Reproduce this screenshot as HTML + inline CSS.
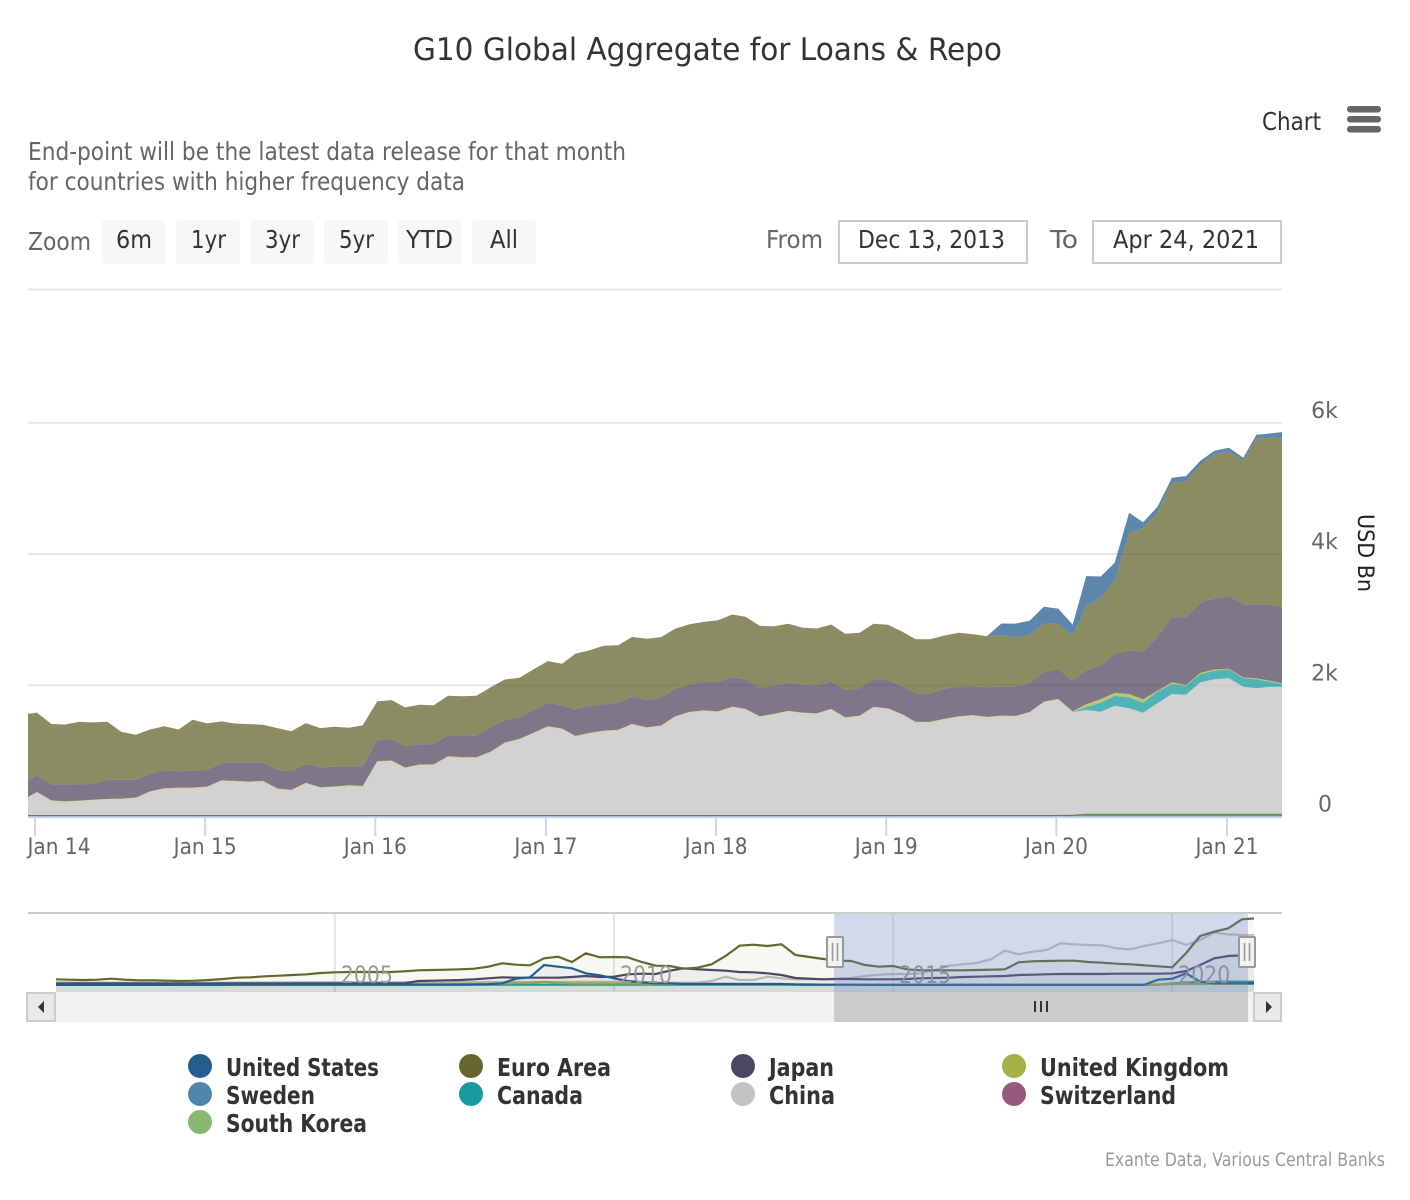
<!DOCTYPE html>
<html lang="en">
<head>
<meta charset="utf-8">
<title>G10 Global Aggregate for Loans &amp; Repo</title>
<style>
html,body{margin:0;padding:0;background:#fff;width:1410px;height:1200px;overflow:hidden}
svg{display:block}
text{font-family:"DejaVu Sans","Liberation Sans",sans-serif}
</style>
</head>
<body>
<svg id="chart" xmlns="http://www.w3.org/2000/svg" width="1410" height="1200" viewBox="0 0 1410 1200">
  <defs>
    <clipPath id="plot-clip"><rect x="28" y="280" width="1254" height="538"/></clipPath>
    <clipPath id="nav-clip"><rect x="56" y="913" width="1198" height="79"/></clipPath>
  </defs>
  <rect width="1410" height="1200" fill="#fff"/>

  <text x="413" y="60" font-size="31" fill="#333" textLength="589" lengthAdjust="spacingAndGlyphs">G10 Global Aggregate for Loans &amp; Repo</text>

  <text x="1262" y="130" font-size="25" fill="#333" textLength="59" lengthAdjust="spacingAndGlyphs">Chart</text>
  <g fill="#666">
    <rect x="1347" y="106" width="34" height="6.5" rx="3.2"/>
    <rect x="1347" y="116" width="34" height="6.5" rx="3.2"/>
    <rect x="1347" y="126" width="34" height="6.5" rx="3.2"/>
  </g>

  <g font-size="25" fill="#666">
    <text x="28" y="160" textLength="598" lengthAdjust="spacingAndGlyphs">End-point will be the latest data release for that month</text>
    <text x="28" y="190" textLength="437" lengthAdjust="spacingAndGlyphs">for countries with higher frequency data</text>
  </g>

  <text x="28" y="250" font-size="25" fill="#666" textLength="63" lengthAdjust="spacingAndGlyphs">Zoom</text>
  <g><rect x="102" y="220" width="64" height="44" rx="4" fill="#f7f7f7"/><text x="116" y="248" font-size="25" fill="#333" textLength="36" lengthAdjust="spacingAndGlyphs">6m</text></g>
  <g><rect x="176" y="220" width="64" height="44" rx="4" fill="#f7f7f7"/><text x="191" y="248" font-size="25" fill="#333" textLength="35" lengthAdjust="spacingAndGlyphs">1yr</text></g>
  <g><rect x="250" y="220" width="64" height="44" rx="4" fill="#f7f7f7"/><text x="265" y="248" font-size="25" fill="#333" textLength="35" lengthAdjust="spacingAndGlyphs">3yr</text></g>
  <g><rect x="324" y="220" width="64" height="44" rx="4" fill="#f7f7f7"/><text x="339" y="248" font-size="25" fill="#333" textLength="35" lengthAdjust="spacingAndGlyphs">5yr</text></g>
  <g><rect x="398" y="220" width="64" height="44" rx="4" fill="#f7f7f7"/><text x="406" y="248" font-size="25" fill="#333" textLength="47" lengthAdjust="spacingAndGlyphs">YTD</text></g>
  <g><rect x="472" y="220" width="64" height="44" rx="4" fill="#f7f7f7"/><text x="490" y="248" font-size="25" fill="#333" textLength="28" lengthAdjust="spacingAndGlyphs">All</text></g>

  <text x="766" y="248" font-size="25" fill="#666" textLength="57" lengthAdjust="spacingAndGlyphs">From</text>
  <g><rect x="839" y="221" width="188" height="42" fill="#fff" stroke="#ccc" stroke-width="2"/><text x="858" y="248" font-size="25" fill="#333" textLength="147" lengthAdjust="spacingAndGlyphs">Dec 13, 2013</text></g>
  <text x="1050" y="248" font-size="25" fill="#666" textLength="28" lengthAdjust="spacingAndGlyphs">To</text>
  <g><rect x="1093" y="221" width="188" height="42" fill="#fff" stroke="#ccc" stroke-width="2"/><text x="1113" y="248" font-size="25" fill="#333" textLength="146" lengthAdjust="spacingAndGlyphs">Apr 24, 2021</text></g>

  <g id="grid-layer"></g>
  <g id="area-layer" clip-path="url(#plot-clip)"></g>
  <g id="x-axis-layer"></g>
  <g id="y-axis-layer"></g>
  <text transform="translate(1358,514) rotate(90)" font-size="22" fill="#222" textLength="78" lengthAdjust="spacingAndGlyphs">USD Bn</text>

  <g id="nav-layer"></g>

  <g>
    <rect x="55" y="992" width="1199" height="30" fill="#f2f2f2"/>
    <rect x="834" y="992" width="414" height="30" fill="#ccc"/>
    <g stroke="#333" stroke-width="2">
      <line x1="1035" y1="1001" x2="1035" y2="1012"/><line x1="1041" y1="1001" x2="1041" y2="1012"/><line x1="1047" y1="1001" x2="1047" y2="1012"/>
    </g>
    <g><rect x="27" y="993" width="28" height="28" fill="#e9e9e9" stroke="#ccc" stroke-width="2"/><path d="M44 1001 L38 1007 L44 1013 Z" fill="#333"/></g>
    <g><rect x="1254" y="993" width="27" height="28" fill="#e9e9e9" stroke="#ccc" stroke-width="2"/><path d="M1266 1001 L1272 1007 L1266 1013 Z" fill="#333"/></g>
  </g>

  <g id="legend-layer"></g>

  <text x="1105" y="1166" font-size="18.5" fill="#999" textLength="280" lengthAdjust="spacingAndGlyphs">Exante Data, Various Central Banks</text>
</svg>

<script>
/* ---------- main chart data (USD bn, monthly) ---------- */
var dates = [
'2013-12-17','2014-01-05','2014-02-05','2014-03-05','2014-04-05','2014-05-05','2014-06-05','2014-07-05','2014-08-05','2014-09-05',
'2014-10-05','2014-11-05','2014-12-05','2015-01-05','2015-02-05','2015-03-05','2015-04-05','2015-05-05','2015-06-05','2015-07-05',
'2015-08-05','2015-09-05','2015-10-05','2015-11-05','2015-12-05','2016-01-05','2016-02-05','2016-03-05','2016-04-05','2016-05-05',
'2016-06-05','2016-07-05','2016-08-05','2016-09-05','2016-10-05','2016-11-05','2016-12-05','2017-01-05','2017-02-05','2017-03-05',
'2017-04-05','2017-05-05','2017-06-05','2017-07-05','2017-08-05','2017-09-05','2017-10-05','2017-11-05','2017-12-05','2018-01-05',
'2018-02-05','2018-03-05','2018-04-05','2018-05-05','2018-06-05','2018-07-05','2018-08-05','2018-09-05','2018-10-05','2018-11-05',
'2018-12-05','2019-01-05','2019-02-05','2019-03-05','2019-04-05','2019-05-05','2019-06-05','2019-07-05','2019-08-05','2019-09-05',
'2019-10-05','2019-11-05','2019-12-05','2020-01-05','2020-02-05','2020-03-05','2020-04-05','2020-05-05','2020-06-05','2020-07-05',
'2020-08-05','2020-09-05','2020-10-05','2020-11-05','2020-12-05','2021-01-05','2021-02-05','2021-03-05','2021-04-05','2021-04-29'];

var southKorea = [
0,0,0,0,0,0,0,0,0,0, 0,0,0,0,0,0,0,0,0,0, 0,0,0,0,0,0,0,0,0,0, 0,0,0,0,0,0,0,0,0,0,
0,0,0,0,0,0,0,0,0,0, 0,0,0,0,0,0,0,0,0,0, 0,0,0,0,0,0,0,0,0,0,
0,0,0,0,5,20,20,20,20,20, 20,20,20,20,20,20,20,20,20,20];
var switzerland = [
0,0,0,0,0,0,0,0,0,0, 0,0,0,0,0,0,0,0,0,0, 0,0,0,0,0,0,0,0,0,0, 0,0,0,0,0,0,0,0,0,0,
0,0,0,0,0,0,0,0,0,0, 0,0,0,0,0,0,0,0,0,0, 0,0,0,0,0,0,0,0,0,0,
0,0,0,0,0,0,0,0,0,0, 0,0,0,0,0,0,0,0,0,0];
var china = [
293,369,241,226,236,251,262,267,282,378,
424,434,434,450,546,536,526,536,419,399,
506,439,450,469,457,835,846,739,785,789,
911,896,896,983,1120,1176,1268,1369,1333,1222,
1268,1303,1314,1405,1353,1381,1521,1588,1612,1597,
1669,1634,1521,1558,1603,1577,1567,1634,1506,1532,
1664,1643,1551,1436,1436,1481,1521,1539,1512,1532,
1527,1588,1745,1786,1588,1603,1577,1669,1629,1562,
1705,1847,1836,2025,2071,2086,1958,1938,1958,1958];
var canada = [
0,0,0,0,0,0,0,0,0,0, 0,0,0,0,0,0,0,0,0,0, 0,0,0,0,0,0,0,0,0,0, 0,0,0,0,0,0,0,0,0,0,
0,0,0,0,0,0,0,0,0,0, 0,0,0,0,0,0,0,0,0,0, 0,0,0,0,0,0,0,0,0,0,
0,0,0,0,5,41,137,148,168,152,
177,152,137,126,131,137,128,133,76,37];
var sweden = [
0,0,0,0,0,0,0,0,0,0, 0,0,0,0,0,0,0,0,0,0, 0,0,0,0,0,0,0,0,0,0, 0,0,0,0,0,0,0,0,0,0,
0,0,0,0,0,0,0,0,0,0, 0,0,0,0,0,0,0,0,0,0, 0,0,0,0,0,0,0,0,0,0,
0,0,0,0,0,0,0,0,0,0, 0,0,0,0,0,0,0,0,0,0];
var unitedKingdom = [
6,6,6,6,6,6,7,7,7,8, 8,8,8,8,8,8,8,9,9,9, 9,9,9,9,9,9,9,9,9,9, 9,9,9,9,9,9,9,9,9,9,
8,8,8,8,8,8,8,8,8,8, 8,8,8,8,8,8,8,8,8,8, 8,8,8,8,8,8,8,8,8,8,
7,7,7,7,6,50,56,50,50,52,
15,26,11,20,21,9,15,15,15,15];
var japan = [
248,253,244,259,244,248,290,285,270,265,
270,248,259,255,259,283,290,283,285,283,
290,300,300,290,302,320,331,325,309,305,
320,335,335,376,340,329,344,357,355,401,
411,401,411,411,418,421,418,416,433,448,
453,447,437,427,427,422,427,416,418,416,
427,427,427,436,436,457,448,442,451,447,
451,442,453,457,466,518,507,600,660,732,
823,991,1032,1067,1082,1113,1113,1132,1154,1167];
var euroArea = [
1017,956,921,910,956,930,884,732,686,675,
675,636,773,706,636,590,584,570,634,610,
619,599,610,585,620,590,588,590,600,590,
600,594,600,604,620,600,620,634,631,849,
847,890,878,914,930,925,914,919,914,939,
949,956,940,908,899,873,864,869,853,844,
838,844,829,823,823,812,823,792,777,777,
742,736,736,690,686,975,1042,1106,1798,1875,
1890,2051,2077,2099,2195,2195,2188,2525,2550,2582];
var unitedStates = [
0,0,0,0,0,0,0,0,0,0, 0,0,0,0,0,0,0,0,0,0, 0,0,0,0,0,0,0,0,0,0, 0,0,0,0,0,0,0,0,0,0,
0,0,0,0,0,0,0,0,0,0, 0,0,0,0,0,0,0,0,0,0, 0,0,0,0,0,0,0,0,0,178,
213,213,255,229,168,457,320,274,305,91,
91,76,76,66,55,61,46,55,67,81];

var yTickValues = [0, 2000, 4000, 6000];
var yTickLabels = ['0', '2k', '4k', '6k'];
var xTickDates = ['2014-01-01','2015-01-01','2016-01-01','2017-01-01','2018-01-01','2019-01-01','2020-01-01','2021-01-01'];
var xTickLabels = ['Jan 14','Jan 15','Jan 16','Jan 17','Jan 18','Jan 19','Jan 20','Jan 21'];

/* ---------- navigator data (USD bn, quarterly) ---------- */
var navDates = [
'2000-01','2000-04','2000-07','2000-10','2001-01','2001-04','2001-07','2001-10','2002-01','2002-04',
'2002-07','2002-10','2003-01','2003-04','2003-07','2003-10','2004-01','2004-04','2004-07','2004-10',
'2005-01','2005-04','2005-07','2005-10','2006-01','2006-04','2006-07','2006-10','2007-01','2007-04',
'2007-07','2007-10','2008-01','2008-04','2008-07','2008-10','2009-01','2009-04','2009-07','2009-10',
'2010-01','2010-04','2010-07','2010-10','2011-01','2011-04','2011-07','2011-10','2012-01','2012-04',
'2012-07','2012-10','2013-01','2013-04','2013-07','2013-10','2014-01','2014-04','2014-07','2014-10',
'2015-01','2015-04','2015-07','2015-10','2016-01','2016-04','2016-07','2016-10','2017-01','2017-04',
'2017-07','2017-10','2018-01','2018-04','2018-07','2018-10','2019-01','2019-04','2019-07','2019-10',
'2020-01','2020-04','2020-07','2020-10','2021-01','2021-04','2021-07'];
var navEuro = [
222,209,196,209,248,209,183,183,170,157,
170,196,235,288,301,340,366,392,418,471,
497,510,510,510,510,536,575,588,601,614,
640,719,850,797,771,1046,1111,902,1242,1085,
1098,1085,902,758,745,640,680,810,1137,1542,
1581,1529,1595,1176,1098,1019,954,941,784,719,
745,614,575,575,575,575,588,601,614,889,
928,941,954,954,902,876,837,810,771,732,
693,1255,1921,2091,2222,2575,2614];
var navJapan = [
60,62,65,65,65,62,62,60,60,60,
60,60,62,62,65,65,65,65,65,65,
65,65,65,65,65,68,157,170,183,196,
222,261,301,288,288,288,288,314,353,314,
327,418,444,431,562,653,614,588,562,510,
497,457,392,274,248,222,235,235,222,222,
222,235,261,274,288,314,327,340,353,392,
405,418,431,431,431,431,444,444,444,444,
457,549,784,1046,1137,1163,1170];
var navUS = [
5,5,5,5,5,5,5,5,5,8,
8,8,8,10,10,10,10,10,10,10,
10,10,10,10,10,10,10,10,12,15,
20,30,65,248,301,784,719,653,457,379,
261,157,105,65,65,39,39,39,39,39,
39,39,39,20,15,10,10,10,8,8,
8,8,8,8,8,8,8,8,8,8,
8,8,8,8,8,8,8,8,8,209,
248,457,131,65,65,65,65];
var navChina = [
110,105,100,100,95,95,90,90,90,85,
90,90,95,100,100,105,105,110,110,115,
115,115,115,115,115,115,115,115,115,115,
115,120,125,125,125,125,125,125,125,120,
120,120,120,91,91,91,91,157,327,196,
196,327,261,222,222,235,248,274,353,405,
431,431,457,588,758,810,863,1006,1346,1202,
1307,1372,1634,1595,1568,1555,1438,1398,1529,1634,
1764,1568,1764,2052,1987,1960,1950];
var navUK = [
8,8,8,8,8,8,8,8,8,8,
8,8,8,8,8,8,8,8,8,8,
8,8,8,8,8,30,40,40,40,45,
45,55,60,70,85,120,85,60,60,60,
60,60,60,55,50,50,50,45,45,40,
40,40,35,30,25,15,10,8,8,8,
8,8,8,8,8,8,8,8,8,8,
8,8,8,8,8,8,8,8,8,20,
40,45,45,45,45,45,45];
var navCanada = [
12,12,12,12,12,12,12,12,12,12,
12,12,12,12,12,12,12,12,12,12,
12,12,12,12,12,12,12,12,12,12,
12,12,12,12,12,12,12,12,12,12,
12,12,12,12,12,12,12,12,12,12,
12,12,12,12,12,12,12,12,12,12,
12,12,12,12,12,12,12,12,12,12,
12,12,12,12,12,12,12,12,12,12,
60,90,120,130,135,130,130];
var navYearTicks = ['2005-01','2010-01','2015-01','2020-01'];
var navYearLabels = ['2005','2010','2015','2020'];

var legendNames = ['United States','Euro Area','Japan','United Kingdom','Sweden','Canada','China','Switzerland','South Korea'];
var legendColors = ['#265d8f','#66662f','#4d4762','#a6b143','#4f86ab','#169aa0','#c3c3c3','#965a7e','#89b971'];
var legendWidths = [153,114,65,189,89,86,66,136,141];

/* ---------- helpers ---------- */
var NS = 'http://www.w3.org/2000/svg';
function mk(tag, parent) { var e = document.createElementNS(NS, tag); parent.appendChild(e); return e; }
function days(s) { return (Date.parse(s) - Date.parse('2014-01-01')) / 86400000; }
function xScale(s) { return 35 + days(s) * (1192 / 2557); }
function yScale(v) { return 816.5 - v * 0.0656; }
function navXScale(s) { return 55.5 + (Date.parse(s + '-01') - Date.parse('2000-01-01')) / 86400000 * (279.2 / 1826.25); }
function navYScale(v) { return 985 - v * 0.0255; }

/* ---------- gridlines ---------- */
var gridLayer = document.getElementById('grid-layer');
var topGrid = mk('line', gridLayer);


topGrid.setAttribute('x1', 28); topGrid.setAttribute('x2', 1282);
topGrid.setAttribute('y1', 289.5); topGrid.setAttribute('y2', 289.5);
topGrid.setAttribute('stroke', '#e6e6e6'); topGrid.setAttribute('stroke-width', 2);

yTickValues.forEach(function (v, i) {
  if (v > 0) {
    var g = mk('line', gridLayer);
    
    
    g.setAttribute('x1', 28); g.setAttribute('x2', 1282);
    g.setAttribute('y1', yScale(v)); g.setAttribute('y2', yScale(v));
    g.setAttribute('stroke', '#e6e6e6'); g.setAttribute('stroke-width', 2);
  }
});

/* ---------- stacked areas ---------- */
var stackSeries = [
  {n: 'south-korea', v: southKorea, c: '#89b971'},
  {n: 'switzerland', v: switzerland, c: '#965a7e'},
  {n: 'china', v: china, c: '#c3c3c3'},
  {n: 'canada', v: canada, c: '#169aa0'},
  {n: 'sweden', v: sweden, c: '#4f86ab'},
  {n: 'united-kingdom', v: unitedKingdom, c: '#a6b143'},
  {n: 'japan', v: japan, c: '#544a62'},
  {n: 'euro-area', v: euroArea, c: '#66662f'},
  {n: 'united-states', v: unitedStates, c: '#265d8f'}
];
var areaLayer = document.getElementById('area-layer');
var base = dates.map(function () { return 0; });
stackSeries.forEach(function (s) {
  var tops = base.map(function (b, i) { return b + s.v[i]; });
  var up = dates.map(function (d, i) { return xScale(d).toFixed(1) + ',' + yScale(tops[i]).toFixed(1); });
  var down = dates.map(function (d, i) { return xScale(d).toFixed(1) + ',' + yScale(base[i]).toFixed(1); }).reverse();
  var area = mk('polygon', areaLayer);
  
  
  area.setAttribute('points', up.concat(down).join(' '));
  area.setAttribute('fill', s.c);
  area.setAttribute('fill-opacity', '0.75');
  if (s.n === 'united-kingdom') {
    var l = mk('polyline', areaLayer);
    
    
    l.setAttribute('points', up.join(' '));
    l.setAttribute('fill', 'none');
    l.setAttribute('stroke', '#c6d06a');
    l.setAttribute('stroke-opacity', '0.45');
    l.setAttribute('stroke-width', '0.8');
  }
  base = tops;
});
/* baseline strokes of the near-zero series */
var swissLine = mk('polyline', areaLayer);


swissLine.setAttribute('points', dates.map(function (d, i) { return xScale(d).toFixed(1) + ',' + yScale(switzerland[i] + southKorea[i]).toFixed(1); }).join(' '));
swissLine.setAttribute('fill', 'none');
swissLine.setAttribute('stroke', '#6b7278');
swissLine.setAttribute('stroke-width', '3');
var koreaPts = [];
dates.forEach(function (d, i) { if (southKorea[i] > 0) { koreaPts.push(xScale(d).toFixed(1) + ',' + yScale(southKorea[i]).toFixed(1)); } });
var koreaLine = mk('polyline', areaLayer);


koreaLine.setAttribute('points', koreaPts.join(' '));
koreaLine.setAttribute('fill', 'none');
koreaLine.setAttribute('stroke', '#6f9a5f');
koreaLine.setAttribute('stroke-width', '1.8');

/* ---------- axes ---------- */
var xLayer = document.getElementById('x-axis-layer');
var xLine = mk('line', xLayer);


xLine.setAttribute('x1', 28); xLine.setAttribute('x2', 1282);
xLine.setAttribute('y1', 817.2); xLine.setAttribute('y2', 817.2);
xLine.setAttribute('stroke', '#ccd6eb'); xLine.setAttribute('stroke-width', 2);
xTickDates.forEach(function (d, i) {
  var px = xScale(d);
  var t = mk('line', xLayer);
  
  
  t.setAttribute('x1', px); t.setAttribute('x2', px);
  t.setAttribute('y1', 818); t.setAttribute('y2', 836);
  t.setAttribute('stroke', '#ccd6eb'); t.setAttribute('stroke-width', 2);
  var lb = mk('text', xLayer);
  
  
  lb.setAttribute('x', Math.max(px, 59));
  lb.setAttribute('y', 854);
  lb.setAttribute('text-anchor', 'middle');
  lb.setAttribute('font-size', '22.5');
  lb.setAttribute('fill', '#666');
  lb.setAttribute('textLength', '63');
  lb.setAttribute('lengthAdjust', 'spacingAndGlyphs');
  lb.textContent = xTickLabels[i];
});
var yLayer = document.getElementById('y-axis-layer');
yTickValues.forEach(function (v, i) {
  var lb = mk('text', yLayer);
  
  
  lb.setAttribute('x', v === 0 ? 1325 : 1324.5);
  lb.setAttribute('y', yScale(v) - 5);
  lb.setAttribute('text-anchor', 'middle');
  lb.setAttribute('font-size', '22');
  lb.setAttribute('fill', '#666');
  lb.textContent = yTickLabels[i];
});

/* ---------- navigator ---------- */
var navLayer = document.getElementById('nav-layer');
var navTop = mk('line', navLayer);


navTop.setAttribute('x1', 28); navTop.setAttribute('x2', 1282);
navTop.setAttribute('y1', 913); navTop.setAttribute('y2', 913);
navTop.setAttribute('stroke', '#ccc'); navTop.setAttribute('stroke-width', 2);
navYearTicks.forEach(function (d) {
  var g = mk('line', navLayer);
  
  
  g.setAttribute('x1', navXScale(d)); g.setAttribute('x2', navXScale(d));
  g.setAttribute('y1', 914); g.setAttribute('y2', 992);
  g.setAttribute('stroke', '#e6e6e6'); g.setAttribute('stroke-width', 2);
});
var navClip = mk('g', navLayer);
navClip.setAttribute('clip-path', 'url(#nav-clip)');


var navSeries = [
  {n: 'canada', v: navCanada, c: '#169aa0'},
  {n: 'china', v: navChina, c: '#c3c3c3'},
  {n: 'united-kingdom', v: navUK, c: '#a6b143'},
  {n: 'japan', v: navJapan, c: '#4d4762'},
  {n: 'euro-area', v: navEuro, c: '#66662f'},
  {n: 'united-states', v: navUS, c: '#265d8f'}
];
navSeries.forEach(function (s) {
  var pts = navDates.map(function (d, i) { return navXScale(d).toFixed(1) + ',' + navYScale(s.v[i]).toFixed(1); });
  var fill = mk('polygon', navClip);
  
  
  fill.setAttribute('points', pts.join(' ') + ' ' + navXScale(navDates[navDates.length - 1]).toFixed(1) + ',992 ' + navXScale(navDates[0]).toFixed(1) + ',992');
  fill.setAttribute('fill', s.c);
  fill.setAttribute('fill-opacity', '0.05');
  var line = mk('polyline', navClip);
  
  
  line.setAttribute('points', pts.join(' '));
  line.setAttribute('fill', 'none');
  line.setAttribute('stroke', s.c);
  line.setAttribute('stroke-width', '2.2');
});
navYearTicks.forEach(function (d, i) {
  var t = mk('text', navLayer);
  
  
  t.setAttribute('x', navXScale(d) + 6);
  t.setAttribute('y', 983);
  t.setAttribute('font-size', '24');
  t.setAttribute('fill', '#999');
  t.setAttribute('textLength', '52');
  t.setAttribute('lengthAdjust', 'spacingAndGlyphs');
  t.textContent = navYearLabels[i];
});
var navMask = mk('rect', navLayer);


navMask.setAttribute('x', 834); navMask.setAttribute('y', 914);
navMask.setAttribute('width', 414); navMask.setAttribute('height', 78);
navMask.setAttribute('fill', 'rgb(102,133,194)'); navMask.setAttribute('fill-opacity', '0.3');
[835, 1247].forEach(function (hx, i) {
  var h = mk('g', navLayer);
  
  
  var r = mk('rect', h);
  r.setAttribute('x', hx - 8); r.setAttribute('y', 937);
  r.setAttribute('width', 16); r.setAttribute('height', 30);
  r.setAttribute('rx', 1);
  r.setAttribute('fill', '#f2f2f2'); r.setAttribute('stroke', '#999'); r.setAttribute('stroke-width', 2);
  [-2.5, 2.5].forEach(function (o) {
    var g = mk('line', h);
    g.setAttribute('x1', hx + o); g.setAttribute('x2', hx + o);
    g.setAttribute('y1', 943); g.setAttribute('y2', 961);
    g.setAttribute('stroke', '#999'); g.setAttribute('stroke-width', 1.6);
  });
});

/* ---------- legend ---------- */
var legendLayer = document.getElementById('legend-layer');
var legendCols = [200, 471, 743, 1014];
var legendRows = [1066, 1094, 1122];
legendNames.forEach(function (name, i) {
  var cx = legendCols[i % 4];
  var cy = legendRows[Math.floor(i / 4)];
  var g = mk('g', legendLayer);
  
  
  var c = mk('circle', g);
  c.setAttribute('cx', cx); c.setAttribute('cy', cy); c.setAttribute('r', 12);
  c.setAttribute('fill', legendColors[i]);
  var t = mk('text', g);
  t.setAttribute('x', cx + 26); t.setAttribute('y', cy + 10);
  t.setAttribute('font-size', '24.5');
  t.setAttribute('font-weight', '700');
  t.setAttribute('fill', '#333');
  t.setAttribute('textLength', legendWidths[i]);
  t.setAttribute('lengthAdjust', 'spacingAndGlyphs');
  t.textContent = name;
});
</script>
</body>
</html>
